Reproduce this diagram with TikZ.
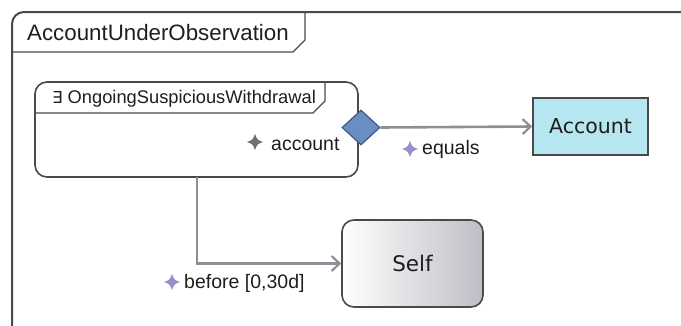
\documentclass[tikz,border=0pt]{standalone}
\usepackage{fontspec}
\setmainfont{Liberation Sans}
\newfontfamily\dejavu{DejaVu Sans}
\usetikzlibrary{arrows.meta,shapes.geometric}
\definecolor{frameC}{HTML}{4A4A4A}
\definecolor{edgeC}{HTML}{8E8E96}
\definecolor{accC}{HTML}{B6E6F0}
\definecolor{diaC}{HTML}{6A8EC2}
\definecolor{diaS}{HTML}{3E5A80}
\definecolor{lavC}{HTML}{9A8ECC}
\definecolor{grayStar}{HTML}{707070}
\definecolor{txtC}{HTML}{1E1E1E}
\definecolor{selfR}{HTML}{BEBEC6}
\tikzset{
  edge/.style={draw=edgeC, line width=2.6pt, -{Straight Barb[length=8pt,width=15pt,line width=2.2pt]}},
  lbl/.style={anchor=base west, inner sep=0pt, font=\fontsize{19.5}{21}\selectfont, text=txtC},
  pics/star4/.style={code={
    \fill[#1] (0,-8) .. controls (2.2,-2.2) .. (8,0) .. controls (2.2,2.2) .. (0,8)
      .. controls (-2.2,2.2) .. (-8,0) .. controls (-2.2,-2.2) .. (0,-8) -- cycle;
  }},
}
\begin{document}
\begin{tikzpicture}[x=1pt,y=-1pt]
\useasboundingbox (0,0) rectangle (681,325);
% outer frame
\draw[frameC, line width=2pt] (12,326) -- (12,24) arc[start angle=180,end angle=270,radius=12] -- (682,12);
\draw[frameC, line width=1.3pt] (12,52) -- (293,52) -- (305,40) -- (305,12);
\node[lbl, font=\fontsize{22.3}{24}\selectfont] (title) at (27,40) {AccountUnderObservation};
% inner box
\draw[frameC, line width=1.6pt, rounded corners=12pt, fill=white] (35,82) rectangle (358,177);
\coordinate (inner) at (196.5,129.5);
\draw[frameC, line width=1.3pt] (35,113) -- (313,113) -- (325,101) -- (325,82);
\node[lbl, font=\fontsize{18.3}{20}\selectfont] (intab) at (52,103) {{\dejavu\fontsize{16.5}{18}\selectfont ∃} OngoingSuspiciousWithdrawal};
% diamond
\node[diamond, draw=diaS, fill=diaC, line width=1.2pt, minimum width=38pt, minimum height=35pt, inner sep=0pt] (dia) at (361,127.5) {};
% Account
\node[draw=frameC, fill=accC, line width=1.6pt, minimum width=115pt, minimum height=57pt, inner sep=0pt,
      font=\dejavu\fontsize{20.5}{22}\selectfont, text=txtC] (acc) at (590.5,126.5) {Account};
% Self
\node[draw=frameC, line width=1.6pt, rounded corners=12pt, left color=white, right color=selfR,
      minimum width=141pt, minimum height=87pt, inner sep=0pt,
      font=\dejavu\fontsize{21.5}{23}\selectfont, text=txtC] (self) at (412.5,263.5) {Self};
% connectors
\draw[edge] (dia.east) -- (acc.west);
\coordinate (bstart) at (197,177);
\draw[edge] (bstart) |- (self.west);
% labels
\pic at (255,142) {star4=grayStar};
\node[lbl] (lacc) at (271,150) {account};
\pic at (410,149) {star4=lavC};
\node[lbl] (leq) at (422,154) {equals};
\pic at (172,282) {star4=lavC};
\node[lbl] (lbef) at (184,288) {before [0,30d]};
\end{tikzpicture}
\end{document}
